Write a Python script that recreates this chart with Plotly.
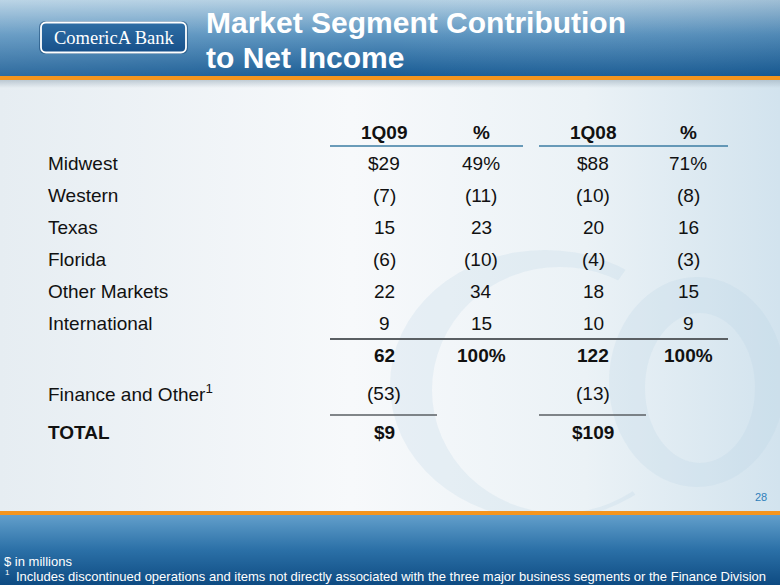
import base64
import plotly.graph_objects as go

# ---------------- data ----------------
column_headers = ["1Q09", "%", "1Q08", "%"]
segments = ["Midwest", "Western", "Texas", "Florida", "Other Markets", "International"]
net_1q09 = [29, -7, 15, -6, 22, 9]
pct_1q09 = [49, -11, 23, -10, 34, 15]
net_1q08 = [88, -10, 20, -4, 18, 10]
pct_1q08 = [71, -8, 16, -3, 15, 9]
subtotal_net = [62, 122]
subtotal_pct = [100, 100]
finance_label = "Finance and Other"
finance_other = [-53, -13]
total_label = "TOTAL"
total_net = [9, 109]

title_lines = ["Market Segment Contribution", "to Net Income"]
note_units = "$ in millions"
note_mark = "1"
note_footnote = "Includes discontinued operations and items not directly associated with the three major business segments or the Finance Division"
page_number = "28"
logo_text = "ComericA Bank"

# ---------------- layout constants ----------------
W, H = 780, 585
FONT = "Liberation Sans, Arial, Helvetica, sans-serif"
TXT = "#111111"
col_x = [384, 481, 593, 688]
row_y0, row_dy = 163, 32
label_x = 47


def fmt(v, prefix="", suffix=""):
    if v < 0:
        return f"({abs(v)})"
    return f"{prefix}{v}{suffix}"


# ---------------- background (decorative SVG, no text) ----------------
svg = f'''<svg xmlns="http://www.w3.org/2000/svg" width="{W}" height="{H}" viewBox="0 0 {W} {H}" preserveAspectRatio="none">
<defs>
<linearGradient id="hdr" x1="0" y1="0" x2="0" y2="1">
<stop offset="0" stop-color="#b4d0e3"/><stop offset="0.45" stop-color="#5a93bf"/><stop offset="1" stop-color="#175a93"/>
</linearGradient>
<linearGradient id="hdrx" x1="0" y1="0" x2="1" y2="0">
<stop offset="0" stop-color="#ffffff" stop-opacity="0.10"/><stop offset="0.5" stop-color="#ffffff" stop-opacity="0"/><stop offset="1" stop-color="#0b3f70" stop-opacity="0.12"/>
</linearGradient>
<linearGradient id="body" x1="0" y1="0" x2="1" y2="0">
<stop offset="0" stop-color="#e6edf2"/><stop offset="0.45" stop-color="#f7f9fb"/><stop offset="0.75" stop-color="#ebf2f6"/><stop offset="1" stop-color="#d2e3ee"/>
</linearGradient>
<linearGradient id="shadow" x1="0" y1="0" x2="0" y2="1">
<stop offset="0" stop-color="#9fb0bd" stop-opacity="0.6"/><stop offset="1" stop-color="#9fb0bd" stop-opacity="0"/>
</linearGradient>
<linearGradient id="ftr" x1="0" y1="0" x2="0" y2="1">
<stop offset="0" stop-color="#629fcb"/><stop offset="0.5" stop-color="#2b70a7"/><stop offset="1" stop-color="#0e4b82"/>
</linearGradient>
<linearGradient id="logo" x1="0" y1="0" x2="0" y2="1">
<stop offset="0" stop-color="#2f6ea5"/><stop offset="1" stop-color="#17508a"/>
</linearGradient>
<clipPath id="copen"><polygon points="0,0 780,0 780,49 545,385 780,670 0,670"/></clipPath>
</defs>
<rect x="0" y="0" width="{W}" height="77" fill="url(#hdr)"/>
<rect x="0" y="0" width="{W}" height="77" fill="url(#hdrx)"/>
<rect x="0" y="80" width="{W}" height="431" fill="url(#body)"/>
<rect x="0" y="80" width="{W}" height="8" fill="url(#shadow)"/>
<g fill="#b8d2e3" fill-opacity="0.22" fill-rule="evenodd">
<path clip-path="url(#copen)" d="M 390 385 A 155 135 0 1 0 700 385 A 155 135 0 1 0 390 385 Z M 432 390 A 128 123 0 1 0 688 390 A 128 123 0 1 0 432 390 Z"/>
<path d="M 609 382 A 88 105 0 1 0 785 382 A 88 105 0 1 0 609 382 Z M 645 388 A 55 75 0 1 0 755 388 A 55 75 0 1 0 645 388 Z"/>
</g>
<rect x="0" y="76" width="{W}" height="4" fill="#f4951e"/>
<rect x="0" y="511" width="{W}" height="4" fill="#f4951e"/>
<rect x="0" y="515" width="{W}" height="70" fill="url(#ftr)"/>
<rect x="39" y="21" width="149" height="33" rx="6" fill="#0d3d6b" opacity="0.5"/>
<rect x="41" y="22.5" width="145" height="30" rx="5" fill="url(#logo)" stroke="#ffffff" stroke-width="1.8"/>
</svg>'''
svg_uri = "data:image/svg+xml;base64," + base64.b64encode(svg.encode("utf-8")).decode("ascii")

fig = go.Figure()
fig.add_trace(go.Scatter(x=[], y=[], hoverinfo="skip", showlegend=False))

ann = []


def add_text(x, y, text, size=19, color=TXT, xanchor="center", family=FONT):
    ann.append(dict(x=x, y=y, xref="x", yref="y", text=text, showarrow=False,
                    xanchor=xanchor, yanchor="middle", align="left", borderpad=0,
                    font=dict(family=family, size=size, color=color)))


# title & logo
for j, line in enumerate(title_lines):
    add_text(205, 22 + j * 35, f"<b>{line}</b>", size=30, color="white", xanchor="left")
add_text(113.5, 37.5, logo_text, size=18.5, color="white",
         family="Liberation Serif, Times New Roman, serif")

# header row
header_y = 132
for cx, h in zip(col_x, column_headers):
    add_text(cx, header_y, f"<b>{h}</b>")

# segment rows
for i, seg in enumerate(segments):
    y = row_y0 + i * row_dy
    add_text(label_x, y, seg, xanchor="left")
    first = i == 0
    vals = [
        fmt(net_1q09[i], "$" if first else ""),
        fmt(pct_1q09[i], "", "%" if first else ""),
        fmt(net_1q08[i], "$" if first else ""),
        fmt(pct_1q08[i], "", "%" if first else ""),
    ]
    for cx, v in zip(col_x, vals):
        add_text(cx, y, v)

# subtotal row
sub_y = 355
sub_vals = [fmt(subtotal_net[0]), fmt(subtotal_pct[0], "", "%"),
            fmt(subtotal_net[1]), fmt(subtotal_pct[1], "", "%")]
for cx, v in zip(col_x, sub_vals):
    add_text(cx, sub_y, f"<b>{v}</b>")

# finance and other
fin_y = 393
add_text(label_x, fin_y, finance_label + "<sup>1</sup>", xanchor="left")
add_text(col_x[0], fin_y, fmt(finance_other[0]))
add_text(col_x[2], fin_y, fmt(finance_other[1]))

# total
tot_y = 432
add_text(label_x, tot_y, f"<b>{total_label}</b>", xanchor="left")
add_text(col_x[0], tot_y, f"<b>{fmt(total_net[0], '$')}</b>")
add_text(col_x[2], tot_y, f"<b>{fmt(total_net[1], '$')}</b>")

# page number & footnotes
add_text(768, 497, page_number, size=11, color="#2f7fba", xanchor="right")
add_text(3, 561, note_units, size=13, color="white", xanchor="left")
add_text(4, 572, note_mark, size=8, color="white", xanchor="left")
add_text(15, 576, note_footnote, size=13, color="white", xanchor="left")

# rules
shapes = [
    dict(type="line", x0=330, x1=523, y0=146, y1=146, line=dict(color="#3b7ca3", width=1.5)),
    dict(type="line", x0=539, x1=728, y0=146, y1=146, line=dict(color="#3b7ca3", width=1.5)),
    dict(type="line", x0=330, x1=728, y0=339, y1=339, line=dict(color="#5a5f63", width=2)),
    dict(type="line", x0=330, x1=437, y0=415, y1=415, line=dict(color="#5a5f63", width=1.5)),
    dict(type="line", x0=539, x1=646, y0=415, y1=415, line=dict(color="#5a5f63", width=1.5)),
]
for s in shapes:
    s.update(xref="x", yref="y")

fig.update_layout(
    width=W, height=H, autosize=False,
    margin=dict(l=0, r=0, t=0, b=0),
    paper_bgcolor="white", plot_bgcolor="rgba(0,0,0,0)",
    xaxis=dict(range=[0, W], visible=False, fixedrange=True),
    yaxis=dict(range=[H, 0], visible=False, fixedrange=True),
    showlegend=False,
    annotations=ann,
    shapes=shapes,
    images=[dict(source=svg_uri, xref="paper", yref="paper", x=0, y=1,
                 sizex=1, sizey=1, xanchor="left", yanchor="top",
                 sizing="stretch", layer="below")],
)

fig.write_html("out.html", config={"displayModeBar": False},
               post_script="document.body.style.margin='0';document.body.style.padding='0';")
